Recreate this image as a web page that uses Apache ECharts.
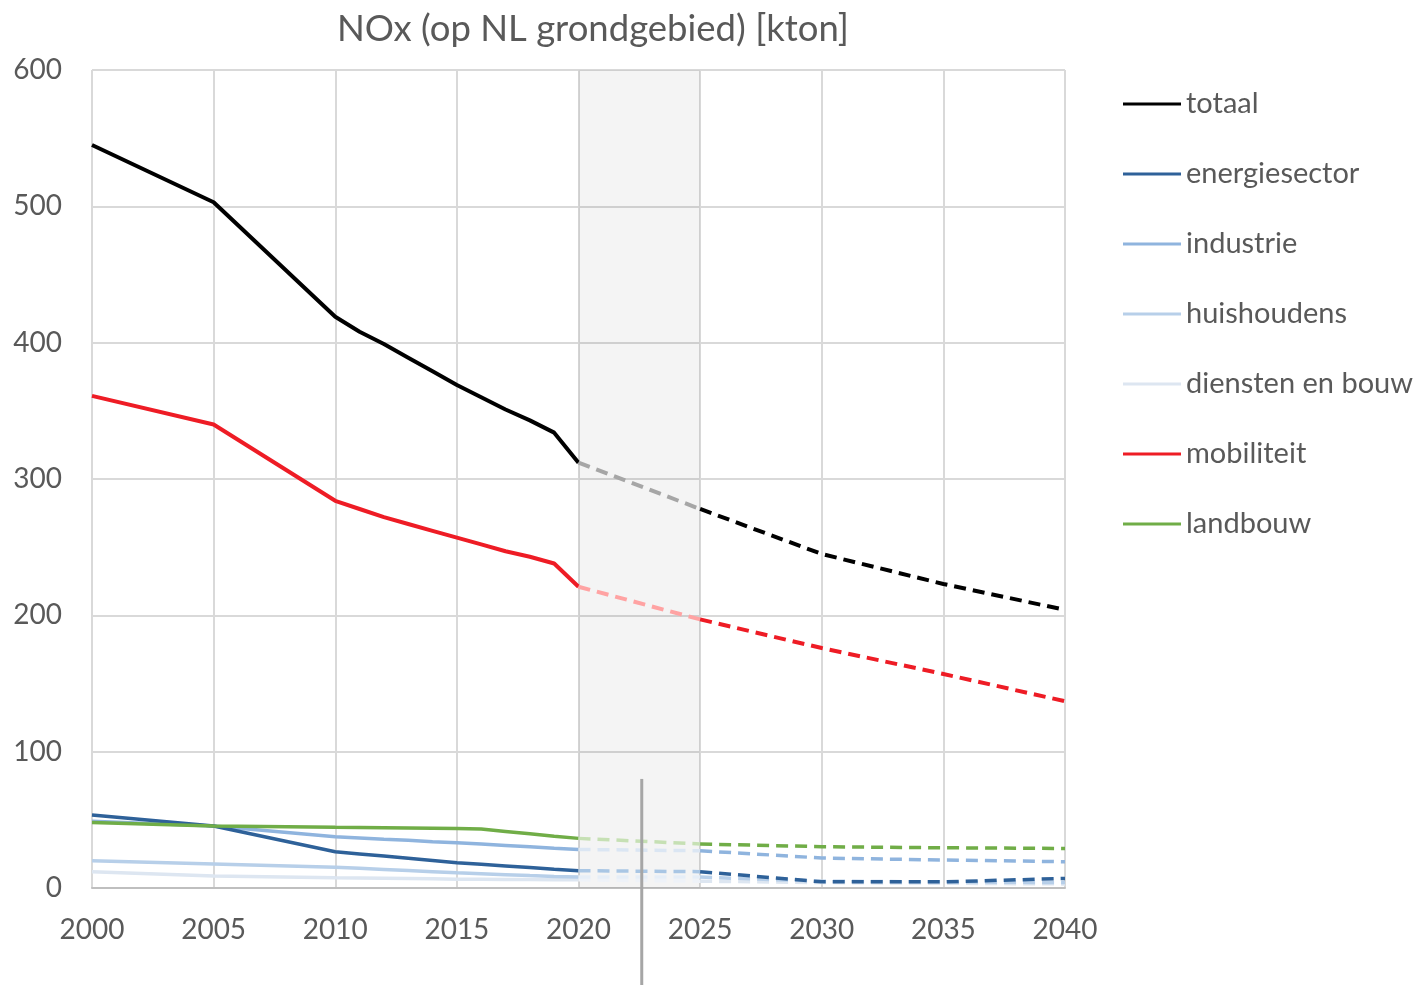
<!DOCTYPE html>
<html>
<head>
<meta charset="utf-8">
<script src="https://cdn.jsdelivr.net/npm/echarts@6/dist/echarts.min.js"></script>
<style>html,body{margin:0;padding:0;background:#fff}#c{width:1419px;height:985px}</style>
</head>
<body>
<div id="c"></div>
<script>
const title = 'NOx (op NL grondgebied) [kton]';
const categories = ['totaal','energiesector','industrie','huishoudens','diensten en bouw','mobiliteit','landbouw'];
const histYears = [2000,2005,2010,2011,2012,2013,2014,2015,2016,2017,2018,2019,2020];
const totaal        = [545,503,419,408,399,389,379,369,360,351,343,334,312];
const energiesector = [53.5,45.5,26.6,25,23.4,21.8,20.2,18.6,17.4,16.2,15,13.8,12.7];
const industrie     = [49,45.5,37.6,36.7,35.8,35,34,33.2,32.2,31.2,30.2,29.2,28.3];
const huishoudens   = [20,17.6,15.2,14.4,13.6,12.8,12,11.2,10.5,9.8,9.1,8.5,8];
const dienstenBouw  = [12,8.8,7.5,7.3,7.1,6.9,6.7,6.5,6.4,6.3,6.2,6.1,6];
const mobiliteit    = [361,340,284,278,272,267,262,257,252,247,243,238,221];
const landbouw      = [48,45.5,44.5,44.4,44.2,44,43.8,43.6,43.2,41.5,39.8,38,36.4];

const projYears = [2025,2030,2035,2040];
const totaalProj        = [278,245,223,204];
const energiesectorProj = [12,4.5,4.5,7];
const industrieProj     = [27.3,22,20.5,19.3];
const huishoudensProj   = [8,5,4.5,4];
const dienstenBouwProj  = [5,4,3.5,3];
const mobiliteitProj    = [197,176,157,137];
const landbouwProj      = [32.3,30.3,29.5,29];

const xTicks = [2000,2005,2010,2015,2020,2025,2030,2035,2040];
const yTicks = [0,100,200,300,400,500,600];
const shadeRange = [2020,2025];

const hist = [totaal,energiesector,industrie,huishoudens,dienstenBouw,mobiliteit,landbouw];
const proj = [totaalProj,energiesectorProj,industrieProj,huishoudensProj,dienstenBouwProj,mobiliteitProj,landbouwProj];
const colors = ['#000000','#2e6199','#8fb4de','#b7cfe9','#dde6f1','#ee1c25','#70ad47'];
const fadedColors = ['#a6a6a6','#a9c6e4','#dbe6f3','#e6eef7','#eef2f8','#ffa3a3','#c6e0b4'];
const widths = [4,3.5,3.5,3.5,3.5,4,3.5];
const zs = [9,6,5,4,3,8,7];

const FONT = 'Lato';
const TXT = '#595959';

const series = [];
categories.forEach((name,i)=>{
  const h = hist[i].map((v,k)=>[histYears[k],v]);
  series.push({
    name, type:'line', color:colors[i], data:h, symbol:'none', z:zs[i],
    lineStyle:{color:colors[i], width:widths[i]},
    markArea: i===0 ? {silent:true, itemStyle:{color:'rgba(0,0,0,0.045)'}, data:[[{xAxis:shadeRange[0]},{xAxis:shadeRange[1]}]]} : undefined
  });
  const last = h[h.length-1];
  const p = proj[i].map((v,k)=>[projYears[k],v]);
  series.push({
    name: name+' (overgang)', type:'line', data:[last,p[0]], symbol:'none', z:zs[i],
    lineStyle:{color:fadedColors[i], width:widths[i], type:[12,7]}
  });
  series.push({
    name: name+' (projectie)', type:'line', data:p, symbol:'none', z:zs[i],
    lineStyle:{color:colors[i], width:widths[i], type:[12,7]}
  });
});

const chart = echarts.init(document.getElementById('c'), null, {renderer:'canvas'});
chart.setOption({
  backgroundColor:'#ffffff',
  animation:false,
  title:{text:title, left:332, top:6, textStyle:{fontFamily:FONT, fontSize:36.5, fontWeight:'normal', color:TXT}},
  grid:{left:92, right:354, top:70, bottom:97, containLabel:false},
  legend:{
    orient:'vertical', left:1118, top:82, data:categories, icon:'rect',
    itemWidth:58, itemHeight:3, itemGap:36,
    textStyle:{fontFamily:FONT, fontSize:29, color:TXT, lineHeight:34}
  },
  xAxis:{
    type:'value', min:xTicks[0], max:xTicks[xTicks.length-1], interval:5,
    axisLine:{show:true, lineStyle:{color:'#bfbfbf', width:2}},
    axisTick:{show:false},
    splitLine:{show:true, lineStyle:{color:'#d9d9d9', width:2}},
    axisLabel:{fontFamily:FONT, fontSize:28, color:TXT, margin:28, formatter:v=>String(v)}
  },
  yAxis:{
    type:'value', min:yTicks[0], max:yTicks[yTicks.length-1], interval:100,
    axisLine:{show:false}, axisTick:{show:false},
    splitLine:{show:true, lineStyle:{color:'#d9d9d9', width:2}},
    axisLabel:{fontFamily:FONT, fontSize:28, color:TXT, margin:30, formatter:v=>String(v)}
  },
  series
});
const markerTop = chart.convertToPixel({gridIndex:0},[2022.6,80]);
chart.setOption({graphic:[{type:'line', silent:true, z:100,
  shape:{x1:markerTop[0], y1:markerTop[1], x2:markerTop[0], y2:985},
  style:{stroke:'#a6a6a6', lineWidth:3}}]});
</script>
</body>
</html>
